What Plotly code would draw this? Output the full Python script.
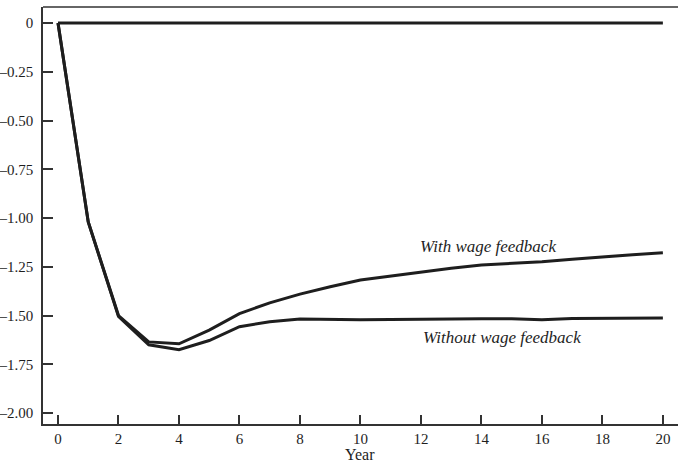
import plotly.graph_objects as go

years = list(range(0, 21))
with_wage = [0, -1.02, -1.50, -1.635, -1.645, -1.575, -1.49, -1.435, -1.39, -1.352,
             -1.318, -1.298, -1.275, -1.257, -1.241, -1.232, -1.224, -1.211, -1.198, -1.188, -1.178]
without_wage = [0, -1.02, -1.505, -1.65, -1.675, -1.628, -1.557, -1.532, -1.518, -1.52,
                -1.522, -1.52, -1.518, -1.518, -1.517, -1.516, -1.522, -1.515, -1.515, -1.514, -1.512]
baseline = [0] * len(years)

y_ticks = [0, -0.25, -0.5, -0.75, -1.0, -1.25, -1.5, -1.75, -2.0]
y_ticktext = ["0", "\u20130.25", "\u20130.50", "\u20130.75", "\u20131.00", "\u20131.25",
              "\u20131.50", "\u20131.75", "\u20132.00"]
x_ticks = list(range(0, 21, 2))

line_color = "#1e1e1e"
font_family = "Liberation Serif, Times New Roman, serif"

fig = go.Figure()
fig.add_trace(go.Scatter(x=years, y=baseline, mode="lines",
                         line=dict(color=line_color, width=3), showlegend=False, hoverinfo="skip"))
fig.add_trace(go.Scatter(x=years, y=with_wage, mode="lines", name="With wage feedback",
                         line=dict(color=line_color, width=3), showlegend=False))
fig.add_trace(go.Scatter(x=years, y=without_wage, mode="lines", name="Without wage feedback",
                         line=dict(color=line_color, width=3), showlegend=False))

fig.add_annotation(x=14.21, y=-1.145, text="<i>With wage feedback</i>", showarrow=False,
                   font=dict(family=font_family, size=17, color=line_color))
fig.add_annotation(x=14.69, y=-1.61, text="<i>Without wage feedback</i>", showarrow=False,
                   font=dict(family=font_family, size=17, color=line_color))
fig.add_annotation(xref="x", yref="paper", x=10, y=0, yshift=-30, yanchor="middle",
                   text="Year", showarrow=False, borderpad=0,
                   font=dict(family=font_family, size=16, color=line_color))

fig.update_layout(
    width=678, height=463,
    margin=dict(l=43, r=0, t=7, b=39),
    paper_bgcolor="white", plot_bgcolor="white",
    font=dict(family=font_family, size=15, color=line_color),
    xaxis=dict(range=[-0.496, 20.5], tickvals=x_ticks, ticks="inside", ticklen=9,
               tickwidth=1.5, tickcolor="#333", showline=True, linecolor="#333", linewidth=1.5,
               mirror=False, showgrid=False, zeroline=False, automargin=False,
               ticklabelstandoff=0, tickfont=dict(size=15)),
    yaxis=dict(range=[-2.056, 0.082], tickvals=y_ticks, ticktext=y_ticktext, ticks="inside",
               ticklen=10, tickwidth=1.5, tickcolor="#333", showline=True, linecolor="#333",
               linewidth=1.5, showgrid=False, zeroline=False, ticklabelstandoff=5,
               automargin=False, tickfont=dict(size=15)),
    shapes=[dict(type="line", xref="paper", yref="paper", x0=0, x1=1, y0=1, y1=1,
                 line=dict(color="#333", width=1.5))],
)

fig.write_html("out.html", config={"displayModeBar": False},
               post_script="document.body.style.margin='0';document.body.style.overflow='hidden';")
